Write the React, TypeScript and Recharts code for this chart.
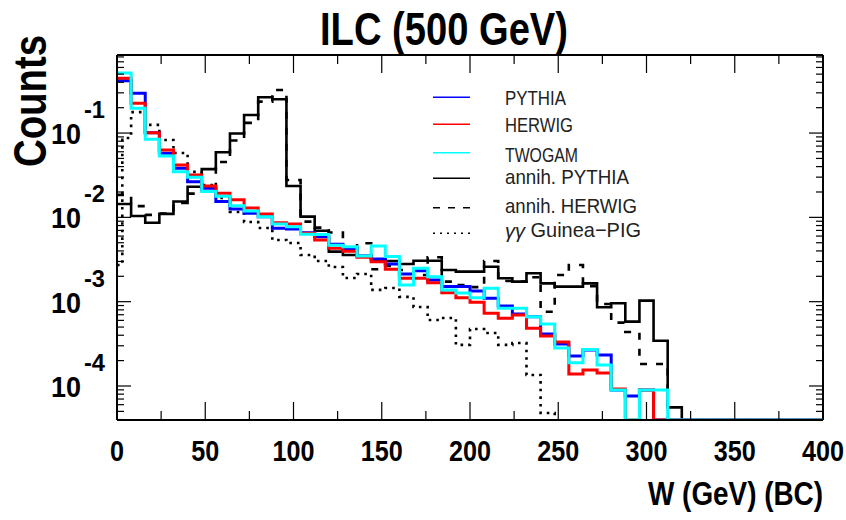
import { LineChart, Line, XAxis, YAxis, ReferenceLine, Legend } from 'recharts'

const FONT = '"Liberation Sans", Arial, Helvetica, sans-serif'

// lower bin edges in GeV (8 GeV bins), 400 closes the last bin
const binEdges = [
  0, 8, 16, 24, 32, 40, 48, 56, 64, 72, 80, 88, 96, 104, 112, 120, 128, 136, 144, 152,
  160, 168, 176, 184, 192, 200, 208, 216, 224, 232, 240, 248, 256, 264, 272, 280, 288, 296, 304, 312,
  320, 328, 336, 344, 352, 360, 368, 376, 384, 392, 400,
]

// bin contents (0 = below the plotted range)
const pythia = [
  0.418, 0.296, 0.101, 0.0576, 0.0382, 0.0265, 0.0221, 0.01545, 0.0126, 0.0112,
  0.0102, 0.00743, 0.00728, 0.00659, 0.0059, 0.0048, 0.00428, 0.00348, 0.00321, 0.0028,
  0.00213, 0.00233, 0.00181, 0.00151, 0.00151, 0.00134, 0.0011, 0.00089, 0.000715, 0.000664,
  0.000414, 0.000315, 0.000227, 0.000267, 0.000233, 0.0000897, 0.000076, 0.0000897, 0, 0,
  0, 0, 0, 0, 0, 0, 0, 0, 0, 0,
]
const herwig = [
  0.447, 0.226, 0.101, 0.063, 0.0419, 0.0319, 0.0236, 0.0193, 0.0162, 0.0129,
  0.011, 0.00865, 0.00835, 0.00648, 0.0054, 0.0043, 0.00397, 0.00336, 0.00298, 0.00242,
  0.0019, 0.0019, 0.00168, 0.00128, 0.00111, 0.000986, 0.000728, 0.000635, 0.000695, 0.000483,
  0.000392, 0.000333, 0.000139, 0.000155, 0.000143, 0.000092, 0, 0.0000897, 0, 0,
  0, 0, 0, 0, 0, 0, 0, 0, 0, 0,
]
const twogam = [
  0.516, 0.197, 0.0844, 0.0535, 0.0348, 0.0299, 0.0202, 0.0178, 0.01374, 0.0119,
  0.0102, 0.00835, 0.00776, 0.00632, 0.00627, 0.00467, 0.00449, 0.00348, 0.00458, 0.00344,
  0.00158, 0.00249, 0.00198, 0.00138, 0.00127, 0.00111, 0.00144, 0.000835, 0.000835, 0.000664,
  0.000543, 0.000282, 0.000188, 0.000271, 0.000178, 0.0000897, 0, 0.0000897, 0.0000897, 0,
  0, 0, 0, 0, 0, 0, 0, 0, 0, 0,
]
const annihPythia = [
  0.0144, 0.0104, 0.00865, 0.011, 0.0154, 0.0231, 0.0373, 0.0591, 0.0986, 0.164,
  0.266, 0.252, 0.0236, 0.0102, 0.00695, 0.00392, 0.00358, 0.00348, 0.00313, 0.00304,
  0.0028, 0.00306, 0.00306, 0.00238, 0.00227, 0.00227, 0.0026, 0.0019, 0.00173, 0.00217,
  0.00165, 0.00151, 0.00151, 0.00165, 0.000859, 0.000958, 0.00058, 0.001028, 0.000344, 0.0000558,
  0, 0, 0, 0, 0, 0, 0, 0, 0, 0,
]
const annihHerwig = [
  0.0185, 0.0136, 0.0107, 0.0111, 0.0148, 0.0191, 0.0231, 0.0454, 0.0817, 0.132,
  0.236, 0.324, 0.0278, 0.0089, 0.00755, 0.00662, 0.0041, 0.00493, 0.00242, 0.00265,
  0.00238, 0.00207, 0.00336, 0.00173, 0.00158, 0.00149, 0.00304, 0.00176, 0.00173, 0.00195,
  0.00076, 0.00207, 0.00272, 0.00153, 0.00094, 0.000564, 0.000437, 0.000182, 0.000182, 0,
  0, 0, 0, 0, 0, 0, 0, 0, 0, 0,
]

// Guinea-PIG has a split first bin
const guineaEdges = [
  0, 3, 8, 16, 24, 32, 40, 48, 56, 64, 72, 80, 88, 96, 104, 112, 120, 128, 136, 144,
  152, 160, 168, 176, 184, 192, 200, 208, 216, 224, 232, 240, 248,
]
const guineaPig = [
  0.00272, 0.0875, 0.177, 0.125, 0.0828, 0.058, 0.0346, 0.0242, 0.017, 0.0116,
  0.0088, 0.00748, 0.0054, 0.00497, 0.00358, 0.00304, 0.00258, 0.00191, 0.00213, 0.00138,
  0.00145, 0.00114, 0.000865, 0.000607, 0.000641, 0.000307, 0.000474, 0.000425, 0.000307, 0.000324,
  0.000135, 0.0000479, 0,
]

const seriesNames = ['PYTHIA', 'HERWIG', 'TWOGAM', 'annih. PYTHIA', 'annih. HERWIG', 'Guinea\u2212PIG']

const xTicks = [0, 25, 50, 75, 100, 125, 150, 175, 200, 225, 250, 275, 300, 325, 350, 375, 400]
const yMajor = [1e-4, 1e-3, 1e-2, 1e-1]
const yExponents = ['-4', '-3', '-2', '-1']
const yDecades = [1e-5, 1e-4, 1e-3, 1e-2, 1e-1]

const Y_MIN = 3.95e-5
const Y_MAX = 0.843
const PLOT_L = 117
const PLOT_R = 823
const PLOT_T = 55
const PLOT_B = 420

const yTicks: number[] = []
for (const d of yDecades) {
  for (let m = 1; m <= 9; m++) {
    const v = m * d
    if (v >= Y_MIN && v <= Y_MAX) yTicks.push(v)
  }
}

const pick = (arr: number[], i: number) => {
  const v = arr[Math.min(i, arr.length - 1)]
  return v > 0 ? v : Y_MIN
}

const rows = binEdges.map((w, i) => ({
  w,
  pythia: pick(pythia, i),
  herwig: pick(herwig, i),
  twogam: pick(twogam, i),
  annihPythia: pick(annihPythia, i),
  annihHerwig: pick(annihHerwig, i),
}))

const guineaRows = guineaEdges.map((w, i) => ({ w, gp: pick(guineaPig, i) }))

function XTick(props: any) {
  const { x, payload } = props
  const major = payload.value % 50 === 0
  const len = major ? 18 : 9
  return (
    <g>
      <line x1={x} x2={x} y1={PLOT_B} y2={PLOT_B - len} stroke="#000" strokeWidth={1.2} />
      <line x1={x} x2={x} y1={PLOT_T} y2={PLOT_T + len} stroke="#000" strokeWidth={1.2} />
      {major && (
        <text
          transform={`translate(${x},461) scale(0.84,1)`}
          textAnchor="middle"
          fontFamily={FONT}
          fontWeight="bold"
          fontSize={30}
          fill="#000"
        >
          {payload.value}
        </text>
      )}
    </g>
  )
}

function YTick(props: any) {
  const { y, payload } = props
  const idx = yMajor.findIndex((m) => Math.abs(m - payload.value) / m < 1e-6)
  const major = idx >= 0
  const len = major ? 14 : 7
  return (
    <g>
      <line x1={PLOT_L} x2={PLOT_L + len} y1={y} y2={y} stroke="#000" strokeWidth={1.2} />
      <line x1={PLOT_R} x2={PLOT_R - len} y1={y} y2={y} stroke="#000" strokeWidth={1.2} />
      {major && (
        <g fontFamily={FONT} fontWeight="bold" fill="#000">
          <text x={51} y={y + 11} fontSize={30} textLength={30} lengthAdjust="spacingAndGlyphs">10</text>
          <text x={84} y={y - 15} fontSize={24} textLength={21} lengthAdjust="spacingAndGlyphs">{yExponents[idx]}</text>
        </g>
      )}
    </g>
  )
}

const legendRows = [
  { color: '#0000ff', dash: undefined, ly: 12.3, ty: 12.5, tl: 61 },
  { color: '#ff0000', dash: undefined, ly: 39.3, ty: 39, tl: 68 },
  { color: '#00ffff', dash: undefined, ly: 67.7, ty: 69, tl: 73 },
  { color: '#000', dash: undefined, ly: 93.3, ty: 91, tl: 124 },
  { color: '#000', dash: '7 8', ly: 122.7, ty: 120, tl: 132 },
  { color: '#000', dash: '2 5', ly: 148.3, ty: 144.5, tl: 136 },
]

function LegendBox() {
  return (
    <svg width={260} height={165} style={{ display: 'block' }}>
      {legendRows.map((r, i) => (
        <g key={i}>
          <line x1={8} x2={45} y1={r.ly} y2={r.ly} stroke={r.color} strokeWidth={1.5} strokeDasharray={r.dash} />
          <text
            x={80}
            y={r.ty}
            dominantBaseline="central"
            fontFamily={FONT}
            fontSize={21}
            fill="#222"
            textLength={r.tl}
            lengthAdjust="spacingAndGlyphs"
          >
            {i === 5 && <tspan fontStyle="italic">{'\u03b3\u03b3 '}</tspan>}
            {seriesNames[i]}
          </text>
        </g>
      ))}
    </svg>
  )
}

export default function App() {
  return (
    <div style={{ position: 'absolute', left: 0, top: 0, width: 846, height: 520, background: '#fff' }}>
      <LineChart width={846} height={520} data={rows} margin={{ top: PLOT_T, right: 846 - PLOT_R, bottom: 0, left: 0 }}>
        <XAxis
          dataKey="w"
          type="number"
          domain={[0, 400]}
          ticks={xTicks}
          interval={0}
          allowDataOverflow
          height={100}
          tickLine={false}
          axisLine={{ stroke: '#000', strokeWidth: 2 }}
          tick={<XTick />}
        />
        <YAxis
          scale="log"
          type="number"
          domain={[Y_MIN, Y_MAX]}
          ticks={yTicks}
          interval={0}
          allowDataOverflow
          width={PLOT_L}
          tickLine={false}
          axisLine={{ stroke: '#000', strokeWidth: 2 }}
          tick={<YTick />}
        />
        <ReferenceLine y={Y_MAX} stroke="#000" strokeWidth={2} />
        <ReferenceLine x={400} stroke="#000" strokeWidth={2} />
        <Line data={guineaRows} dataKey="gp" type="stepAfter" stroke="#000" strokeWidth={2.6} strokeDasharray="2.6 5" dot={false} isAnimationActive={false} />
        <Line dataKey="annihHerwig" type="stepAfter" stroke="#000" strokeWidth={2.6} strokeDasharray="7 9" dot={false} isAnimationActive={false} />
        <Line dataKey="annihPythia" type="stepAfter" stroke="#000" strokeWidth={2.6} dot={false} isAnimationActive={false} />
        <Line dataKey="pythia" type="stepAfter" stroke="#0000ff" strokeWidth={3} dot={false} isAnimationActive={false} />
        <Line dataKey="herwig" type="stepAfter" stroke="#ff0000" strokeWidth={3} dot={false} isAnimationActive={false} />
        <Line dataKey="twogam" type="stepAfter" stroke="#00ffff" strokeWidth={3} dot={false} isAnimationActive={false} />
        <Legend
          layout="vertical"
          align="center"
          verticalAlign="middle"
          content={() => <LegendBox />}
          wrapperStyle={{ position: 'absolute', left: 425, top: 85, width: 260, height: 165 }}
        />
      </LineChart>
      <svg width={846} height={520} style={{ position: 'absolute', left: 0, top: 0, pointerEvents: 'none' }}>
        <text x={444} y={45} textAnchor="middle" fontFamily={FONT} fontWeight="bold" fontSize={46} fill="#000" textLength={248} lengthAdjust="spacingAndGlyphs">
          ILC (500 GeV)
        </text>
        <text transform="translate(46,101) rotate(-90)" textAnchor="middle" fontFamily={FONT} fontWeight="bold" fontSize={46} fill="#000" textLength={132} lengthAdjust="spacingAndGlyphs">
          Counts
        </text>
        <text transform="translate(823,505) scale(0.845,1)" textAnchor="end" fontFamily={FONT} fontWeight="bold" fontSize={33} fill="#000">
          W (GeV) (BC)
        </text>
      </svg>
    </div>
  )
}
